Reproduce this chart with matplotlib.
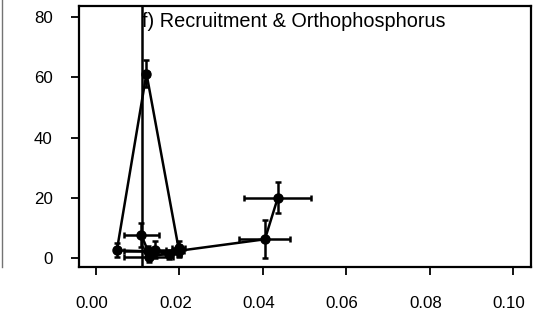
import numpy as np
import matplotlib.pyplot as plt
from matplotlib.lines import Line2D
from matplotlib.transforms import ScaledTranslation

# ===============================
# DATA
# ===============================
ortho = [0.0109, 0.0125, 0.0050, 0.0121, 0.0198, 0.0174, 0.0142, 0.0126, 0.0200, 0.0405, 0.0436]
ortho_se = [0.0042, 0.0058, 0.0005, 0.0005, 0.0015, 0.0030, 0.0025, 0.0058, 0.0012, 0.0061, 0.0080]
recruit = [7.6, 2.3, 2.6, 61.3, 3.3, 1.3, 2.8, 0.3, 2.5, 6.3, 20.1]
recruit_se = [4.0, 1.6, 2.3, 4.5, 2.5, 1.6, 2.8, 1.6, 2.0, 6.3, 5.1]

ref_line = 0.011
title = "f) Recruitment & Orthophosphorus"
xticks = [0.00, 0.02, 0.04, 0.06, 0.08, 0.10]
yticks = [0, 20, 40, 60, 80]

# ===============================
# PLOT
# ===============================
plt.rcParams["font.family"] = ["Liberation Sans", "DejaVu Sans"]
plt.rcParams["font.size"] = 12.2

fig = plt.figure(figsize=(5.37, 3.22), dpi=100)
ax = fig.add_axes([0.1471, 0.1699, 0.8417, 0.8115])

ax.errorbar(ortho, recruit, xerr=ortho_se, yerr=recruit_se,
            fmt="o-", color="black", ms=6.5, lw=1.8, elinewidth=1.8,
            capsize=2.5, capthick=1.8)
ax.axvline(ref_line, color="black", lw=1.8)

ax.set_xlim(-0.00408, 0.1043)
ax.set_ylim(-3.0, 83.7)
ax.set_xticks(xticks)
ax.set_xticklabels([f"{t:.2f}" for t in xticks])
ax.set_yticks(yticks)
ax.tick_params(direction="out", length=5.5, width=1.3, pad=13.5)
ax.tick_params(axis="x", pad=15)
for s in ax.spines.values():
    s.set_linewidth(1.6)

# x labels sit a little left of their ticks
shift = ScaledTranslation(-4 / 100, 0, fig.dpi_scale_trans)
for lab in ax.get_xticklabels():
    lab.set_transform(lab.get_transform() + shift)

ax.text(ref_line, 0.921, title, transform=ax.get_xaxis_transform(),
        ha="left", va="baseline", fontsize=14.3)

# edge of the neighbouring panel
fig.add_artist(Line2D([2 / 537, 2 / 537], [1.0, 1 - 267 / 322],
                      transform=fig.transFigure, color="0.45", lw=1))

fig.savefig("out.png", dpi=100)
